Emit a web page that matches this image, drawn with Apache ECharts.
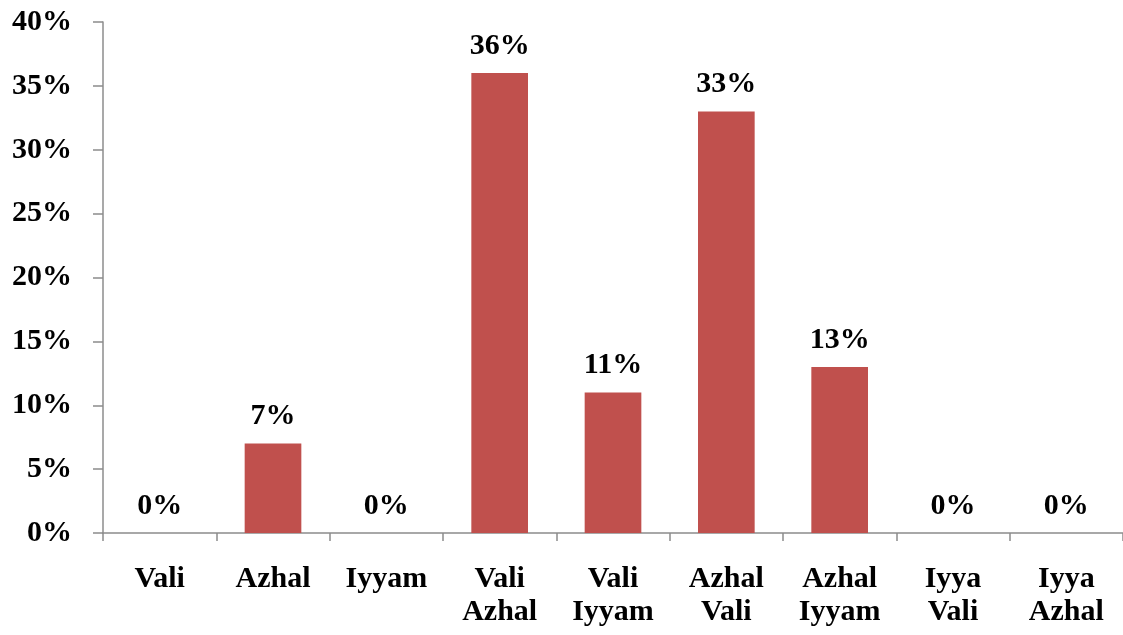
<!DOCTYPE html>
<html>
<head>
<meta charset="utf-8">
<script src="https://cdn.jsdelivr.net/npm/echarts@6/dist/echarts.min.js"></script>
<style>
  html, body { margin: 0; padding: 0; background: #fff; }
  #chart { width: 1123px; height: 635px; }
</style>
</head>
<body>
<div id="chart"></div>
<script>
var categories = ['Vali', 'Azhal', 'Iyyam', 'Vali\nAzhal', 'Vali\nIyyam', 'Azhal\nVali', 'Azhal\nIyyam', 'Iyya\nVali', 'Iyya\nAzhal'];
var shares = [0, 7, 0, 36, 11, 33, 13, 0, 0];
var yTicks = { min: 0, max: 40, step: 5 };

var font = '"Liberation Serif", "Times New Roman", serif';

/* bar chart */
var chart = echarts.init(document.getElementById('chart'));
chart.setOption({
  animation: false,
  grid: { left: 103, right: -6, top: 22, bottom: 102 },
  xAxis: {
    type: 'category',
    data: categories,
    boundaryGap: true,
    axisLine: { lineStyle: { color: '#8c8c8c', width: 1.5 } },
    axisTick: { show: true, length: 8, alignWithLabel: false, lineStyle: { color: '#8c8c8c', width: 1.5 } },
    axisLabel: {
      interval: 0,
      margin: 30,
      color: '#000',
      fontFamily: font,
      fontWeight: 'bold',
      fontSize: 30,
      lineHeight: 33
    }
  },
  yAxis: {
    type: 'value',
    min: yTicks.min,
    max: yTicks.max,
    interval: yTicks.step,
    splitLine: { show: false },
    axisLine: { show: true, lineStyle: { color: '#8c8c8c', width: 1.5 } },
    axisTick: { show: true, length: 10, lineStyle: { color: '#8c8c8c', width: 1.5 } },
    axisLabel: {
      margin: 31,
      color: '#000',
      fontFamily: font,
      fontWeight: 'bold',
      fontSize: 30,
      formatter: '{value}%'
    }
  },
  series: [{
    type: 'bar',
    data: shares,
    barWidth: '50%',
    itemStyle: { color: '#c0504d' },
    label: {
      show: true,
      position: 'top',
      distance: 12,
      color: '#000',
      fontFamily: font,
      fontWeight: 'bold',
      fontSize: 30,
      formatter: '{c}%'
    }
  }]
});
</script>
</body>
</html>
